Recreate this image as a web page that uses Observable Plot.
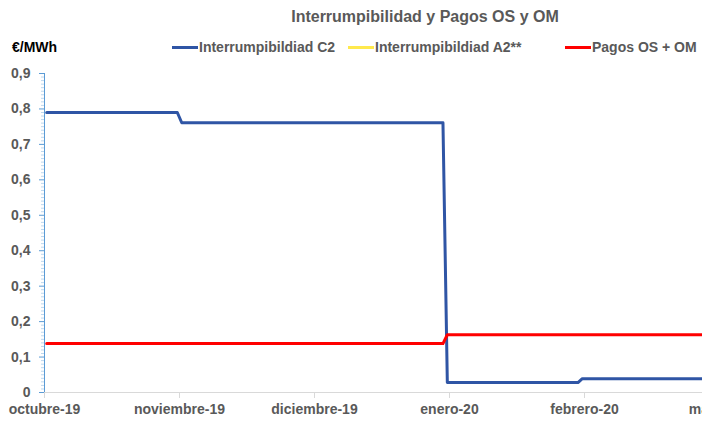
<!DOCTYPE html>
<html>
<head>
<meta charset="utf-8">
<script src="https://cdn.jsdelivr.net/npm/d3@7"></script>
<script src="https://cdn.jsdelivr.net/npm/@observablehq/plot@0.6"></script>
<style>
  body { margin: 0; background: #fff; }
  #wrap { position: relative; width: 702px; height: 423px; overflow: hidden; font-family: "Liberation Sans", Arial, sans-serif; font-weight: bold; }
  #head { position: relative; width: 702px; height: 55px; }
  .title { position: absolute; left: 425px; top: 8px; transform: translateX(-50%); font-size: 16px; color: #595959; white-space: nowrap; }
  .unit { position: absolute; left: 12px; top: 39px; font-size: 14px; color: #000; white-space: nowrap; }
  .leg { position: absolute; top: 39px; display: flex; align-items: center; font-size: 14px; color: #595959; white-space: nowrap; }
  .sw { width: 26px; height: 3px; margin-right: 1px; }
</style>
</head>
<body>
<div id="wrap">
  <div id="head"></div>
  <div id="chart"></div>
</div>
<script>
// ---- data ----
const chartTitle = "Interrumpibilidad y Pagos OS y OM";
const unitLabel = "€/MWh";
const seriesNames = ["Interrumpibildiad C2", "Interrumpibildiad A2**", "Pagos OS + OM"];
const seriesColors = ["#2f55a5", "#ffe94d", "#ff0000"];

const xTickDates = ["2019-10-01", "2019-11-01", "2019-12-01", "2020-01-01", "2020-02-01", "2020-03-01"];
const xTickLabels = ["octubre-19", "noviembre-19", "diciembre-19", "enero-20", "febrero-20", "marzo-20"];
const yTicks = [0, 0.1, 0.2, 0.3, 0.4, 0.5, 0.6, 0.7, 0.8, 0.9];
const yTickLabels = ["0", "0,1", "0,2", "0,3", "0,4", "0,5", "0,6", "0,7", "0,8", "0,9"];

const c2Dates = ["2019-10-01", "2019-10-31", "2019-11-01", "2019-12-30", "2019-12-31", "2020-01-30", "2020-01-31", "2020-02-29"];
const c2Values = [0.79, 0.79, 0.761, 0.761, 0.028, 0.028, 0.039, 0.039];

const a2Dates = [];
const a2Values = [];

const osDates = ["2019-10-01", "2019-12-30", "2019-12-31", "2020-02-29"];
const osValues = [0.138, 0.138, 0.163, 0.163];

// ---- build ----
const noon = s => new Date(s + "T12:00:00Z");
const midnight = s => new Date(s + "T00:00:00Z");
const rows = [];
[[c2Dates, c2Values, 0], [a2Dates, a2Values, 1], [osDates, osValues, 2]].forEach(([ds, vs, k]) => {
  ds.forEach((d, i) => rows.push({date: noon(d), value: vs[i], series: seriesNames[k]}));
});
const tickDates = xTickDates.map(midnight);
const minorTicks = d3.range(0, 91).filter(i => i % 10 !== 0).map(i => i / 100);

// header
const head = document.getElementById("head");
head.innerHTML = `<div class="title">${chartTitle}</div><div class="unit">${unitLabel}</div>`;
const legendLeft = [172, 348, 565];
seriesNames.forEach((n, i) => {
  const el = document.createElement("div");
  el.className = "leg";
  el.style.left = legendLeft[i] + "px";
  el.innerHTML = `<span class="sw" style="background:${seriesColors[i]}"></span><span>${n}</span>`;
  head.appendChild(el);
});

const plot = Plot.plot({
  width: 702,
  height: 368,
  marginTop: 18,
  marginBottom: 31,
  marginLeft: 44,
  marginRight: 0,
  style: {fontFamily: '"Liberation Sans", Arial, sans-serif', fontSize: "14px", fontWeight: "bold", color: "#595959", background: "#fff", overflow: "hidden"},
  x: {type: "utc", domain: tickDates, range: [44, 179, 314, 449, 584, 719]},
  y: {domain: [0, 0.9]},
  color: {domain: seriesNames, range: seriesColors},
  marks: [
    Plot.ruleY([0], {stroke: "#d9d9d9", strokeWidth: 1}),
    Plot.axisX(tickDates, {
      tickSize: 6, tickPadding: 6, stroke: "#d9d9d9", fill: "#595959",
      tickFormat: d => xTickLabels[tickDates.findIndex(t => +t === +d)],
      label: null
    }),
    Plot.axisY(minorTicks, {tickSize: 3, text: null, stroke: "#bdd7ee", label: null}),
    Plot.axisY(yTicks, {
      tickSize: 5, tickPadding: 9, stroke: "#5b9bd5", fill: "#595959",
      tickFormat: d => yTickLabels[yTicks.indexOf(d)],
      label: null
    }),
    Plot.ruleX([tickDates[0]], {stroke: "#5b9bd5", strokeWidth: 1}),
    Plot.line(rows, {x: "date", y: "value", z: "series", stroke: "series", strokeWidth: 3, curve: "linear"})
  ]
});
document.getElementById("chart").appendChild(plot);
</script>
</body>
</html>
